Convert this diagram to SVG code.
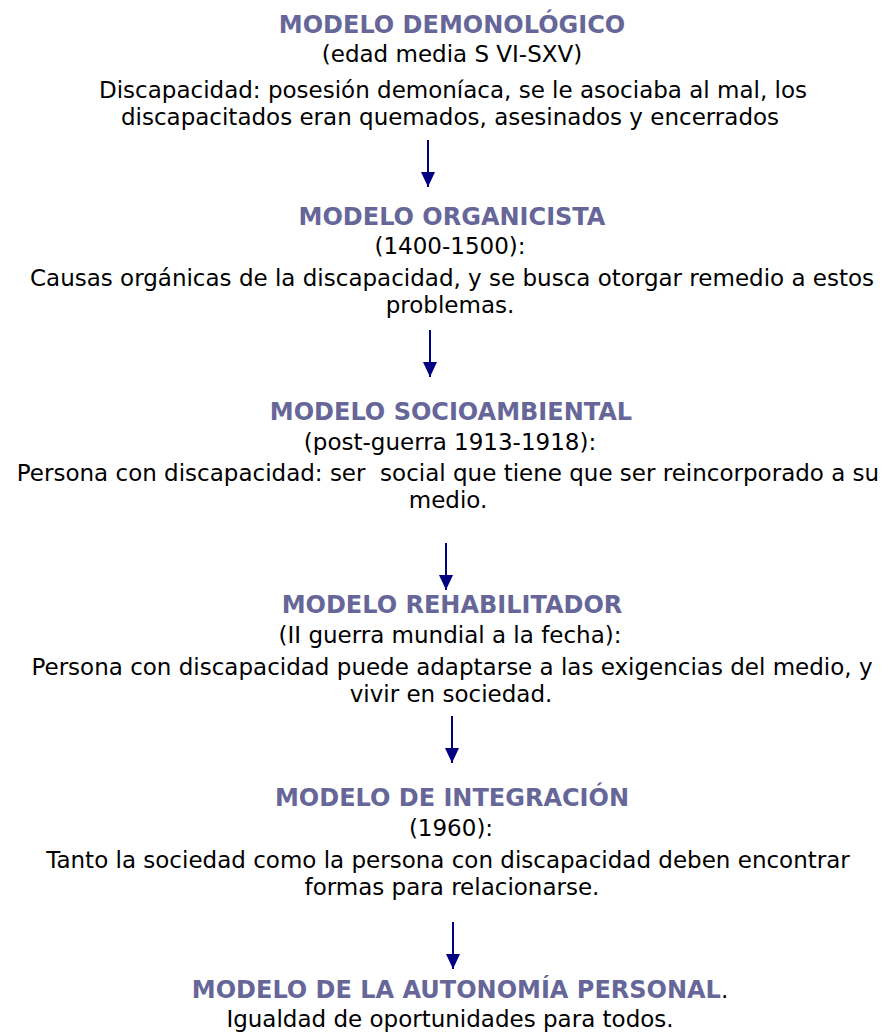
<svg xmlns="http://www.w3.org/2000/svg" width="894" height="1036" viewBox="0 0 894 1036">
<style>
text{font-family:"DejaVu Sans","Verdana",sans-serif;text-anchor:middle;fill:#000;font-size:23px;white-space:pre}
.t{font-weight:bold;fill:#666699;font-size:24px}
.c line{stroke:#000080;stroke-width:2}
</style>
<defs>
<marker id="ah" viewBox="0 0 15 14" refX="15" refY="7" markerWidth="15" markerHeight="14" markerUnits="userSpaceOnUse" orient="auto">
<path d="M0,0 L15,7 L0,14 Z" fill="#000080"/>
</marker>
</defs>
<rect width="894" height="1036" fill="#fff"/>
<g id="n1">
<text class="t" x="452" y="33">MODELO DEMONOLÓGICO</text>
<text x="452" y="62">(edad media S VI-SXV)</text>
<text x="453" y="98">Discapacidad: posesión demoníaca, se le asociaba al mal, los</text>
<text x="450" y="125">discapacitados eran quemados, asesinados y encerrados</text>
</g>
<g id="n2">
<text class="t" x="452" y="225">MODELO ORGANICISTA</text>
<text x="450" y="254">(1400-1500):</text>
<text x="452" y="286">Causas orgánicas de la discapacidad, y se busca otorgar remedio a estos</text>
<text x="450" y="313">problemas.</text>
</g>
<g id="n3">
<text class="t" x="451" y="420">MODELO SOCIOAMBIENTAL</text>
<text x="450" y="450">(post-guerra 1913-1918):</text>
<text x="448" y="481">Persona con discapacidad: ser  social que tiene que ser reincorporado a su</text>
<text x="448" y="508">medio.</text>
</g>
<g id="n4">
<text class="t" x="452" y="613">MODELO REHABILITADOR</text>
<text x="450" y="643">(II guerra mundial a la fecha):</text>
<text x="452" y="675">Persona con discapacidad puede adaptarse a las exigencias del medio, y</text>
<text x="451" y="702">vivir en sociedad.</text>
</g>
<g id="n5">
<text class="t" x="452" y="806">MODELO DE INTEGRACIÓN</text>
<text x="451" y="836">(1960):</text>
<text x="448" y="868">Tanto la sociedad como la persona con discapacidad deben encontrar</text>
<text x="452" y="895">formas para relacionarse.</text>
</g>
<g id="n6">
<text x="460" y="998"><tspan class="t">MODELO DE LA AUTONOMÍA PERSONAL</tspan>.</text>
<text x="450" y="1027">Igualdad de oportunidades para todos.</text>
</g>
<g class="c" id="connectors">
<line x1="428" y1="140" x2="428" y2="187" marker-end="url(#ah)"/>
<line x1="430" y1="330" x2="430" y2="377" marker-end="url(#ah)"/>
<line x1="446" y1="543" x2="446" y2="590" marker-end="url(#ah)"/>
<line x1="452" y1="716" x2="452" y2="763" marker-end="url(#ah)"/>
<line x1="453" y1="922" x2="453" y2="969" marker-end="url(#ah)"/>
</g>
</svg>
